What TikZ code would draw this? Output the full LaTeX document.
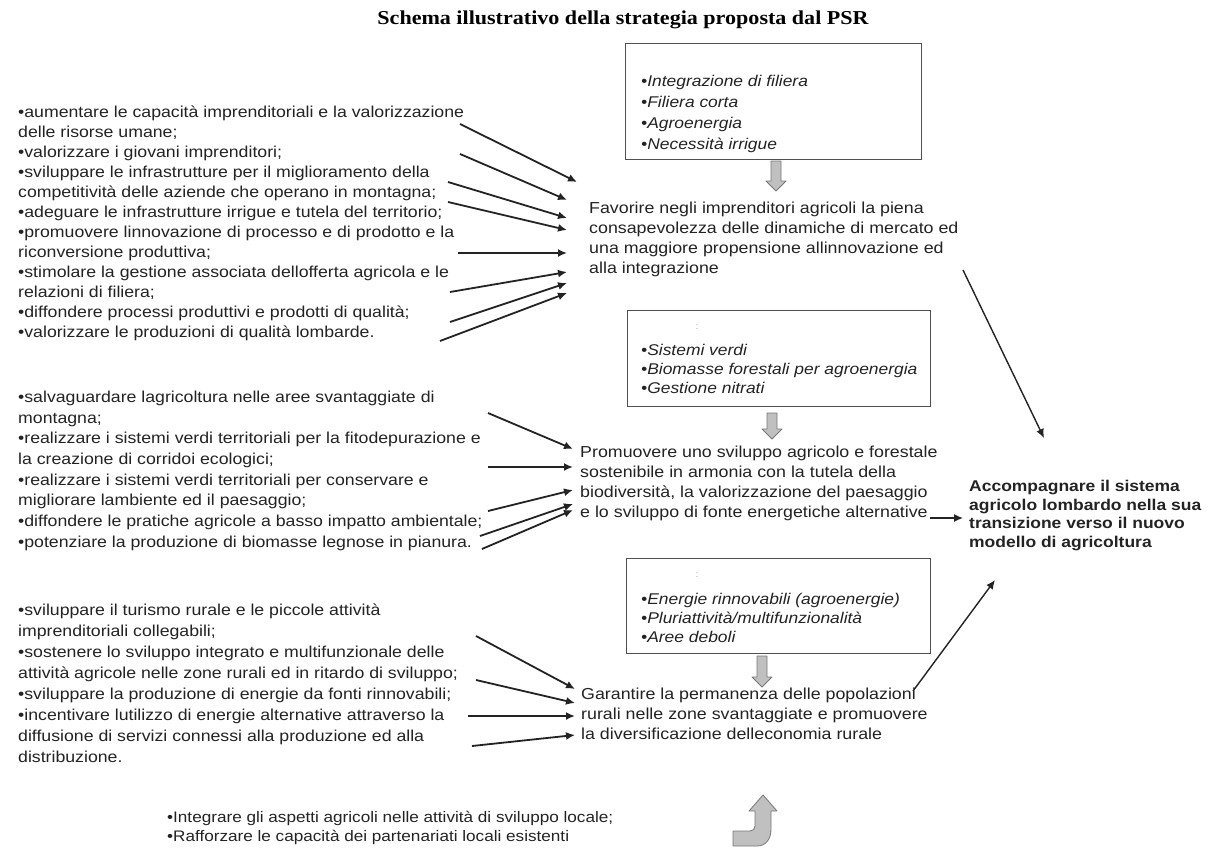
\documentclass[tikz,border=0pt]{standalone}
\usepackage{fontspec}
\setmainfont{Liberation Sans}[FakeStretch=1.12]
\newfontfamily\titlefont{Liberation Serif}[FakeStretch=1.12]
\usetikzlibrary{arrows.meta}
\definecolor{txt}{RGB}{35,35,35}
\definecolor{gfill}{RGB}{192,192,192}
\definecolor{gline}{RGB}{120,120,120}
\definecolor{boxline}{RGB}{80,80,80}
\tikzset{
  lst/.style={anchor=north west, inner sep=0pt, align=left, text=txt, font=\fontsize{15.8}{20}\selectfont},
  main/.style={anchor=north west, inner sep=0pt, align=left, text=txt, font=\fontsize{15.9}{20}\selectfont},
  boxtxt/.style={anchor=north west, inner sep=0pt, align=left, text=txt, font=\fontsize{15.55}{19.2}\selectfont\itshape},
  boxst/.style={anchor=north west, draw=boxline, line width=1.2pt, inner sep=0pt},
  arr/.style={line width=1.8pt, draw=txt, -{Latex[length=9pt,width=8pt]}},
  arrr/.style={line width=1.4pt, draw=txt, -{Latex[length=9pt,width=8pt]}},
  garr/.style={fill=gfill, draw=gline, line width=0.8pt, line join=round},
  colonmark/.style={inner sep=0pt, text=black!35, font=\fontsize{9}{9}\selectfont}
}
\newcommand\grayarrowdown[4]{\filldraw[garr] ({#1-5},#2) -- ({#1+5},#2) -- ({#1+5},#3) -- ({#1+10},#3) -- (#1,#4) -- ({#1-10},#3) -- ({#1-5},#3) -- cycle;}
\begin{document}
\begin{tikzpicture}[x=1pt,y=-1pt]
\useasboundingbox[fill=white] (0,0) rectangle (1209,867);

% title
\node[inner sep=0pt, anchor=base, text=black, font=\titlefont\bfseries\fontsize{19.7}{22}\selectfont] (title) at (623,25) {Schema illustrativo della strategia proposta dal PSR};

% boxes
\node[boxst, minimum width=296pt, minimum height=116pt] (b1) at (625,43) {};
\node[boxst, minimum width=303pt, minimum height=96pt] (b2) at (627,310) {};
\node[boxst, minimum width=304pt, minimum height=95pt] (b3) at (626,558) {};

\node[boxtxt, font=\fontsize{15.55}{20.9}\selectfont\itshape] (bt1) at (641,75) {•Integrazione di filiera\\•Filiera corta\\•Agroenergia\\•Necessità irrigue};
\node[colonmark] (m2) at (697,327) {:};
\node[boxtxt] (bt2) at (641,344) {•Sistemi verdi\\•Biomasse forestali per agroenergia\\•Gestione nitrati};
\node[colonmark] (m3) at (697,575) {:};
\node[boxtxt] (bt3) at (641,593) {•Energie rinnovabili (agroenergie)\\•Pluriattività/multifunzionalità\\•Aree deboli};

% main texts
\node[main] (t1) at (589,201.7) {Favorire negli imprenditori agricoli la piena\\consapevolezza delle dinamiche di mercato ed\\una maggiore propensione allinnovazione ed\\alla integrazione};
\node[main] (t2) at (580,445.7) {Promuovere uno sviluppo agricolo e forestale\\sostenibile in armonia con la tutela della\\biodiversità, la valorizzazione del paesaggio\\e lo sviluppo di fonte energetiche alternative};
\node[main, font=\fontsize{15.9}{20}\selectfont] (t3) at (581,687.7) {Garantire la permanenza delle popolazioni\\rurali nelle zone svantaggiate e promuovere\\la diversificazione delleconomia rurale};
\node[main, font=\bfseries\fontsize{15.6}{18.7}\selectfont] (acc) at (969,480) {Accompagnare il sistema\\agricolo lombardo nella sua\\transizione verso il nuovo\\modello di agricoltura};

% grey block arrows
\grayarrowdown{776}{161}{181}{191}
\grayarrowdown{772}{413}{429}{439}
\grayarrowdown{762}{656}{677}{687}
\filldraw[garr] (733,846) -- (757,846) .. controls (766,846) and (771,839) .. (771,829) -- (771,811) -- (777,811) -- (763,795) -- (749,811) -- (755,811) -- (755,826) .. controls (755,829) and (753,831) .. (750,831) -- (733,831) -- cycle;

% left lists
\node[lst] (g1) at (18,105.7) {•aumentare le capacità imprenditoriali e la valorizzazione\\delle risorse umane;\\•valorizzare i giovani imprenditori;\\•sviluppare le infrastrutture per il miglioramento della\\competitività delle aziende che operano in montagna;\\•adeguare le infrastrutture irrigue e tutela del territorio;\\•promuovere linnovazione di processo e di prodotto e la\\riconversione produttiva;\\•stimolare la gestione associata dellofferta agricola e le\\relazioni di filiera;\\•diffondere processi produttivi e prodotti di qualità;\\•valorizzare le produzioni di qualità lombarde.};
\node[lst, font=\fontsize{15.8}{20.7}\selectfont] (g2) at (18,390.7) {•salvaguardare lagricoltura nelle aree svantaggiate di\\montagna;\\•realizzare i sistemi verdi territoriali per la fitodepurazione e\\la creazione di corridoi ecologici;\\•realizzare i sistemi verdi territoriali per conservare e\\migliorare lambiente ed il paesaggio;\\•diffondere le pratiche agricole a basso impatto ambientale;\\•potenziare la produzione di biomasse legnose in pianura.};
\node[lst, font=\fontsize{15.8}{21}\selectfont] (g3) at (18,603.7) {•sviluppare il turismo rurale e le piccole attività\\imprenditoriali collegabili;\\•sostenere lo sviluppo integrato e multifunzionale delle\\attività agricole nelle zone rurali ed in ritardo di sviluppo;\\•sviluppare la produzione di energie da fonti rinnovabili;\\•incentivare lutilizzo di energie alternative attraverso la\\diffusione di servizi connessi alla produzione ed alla\\distribuzione.};
\node[lst, font=\fontsize{15.3}{19}\selectfont] (g4) at (167,811) {•Integrare gli aspetti agricoli nelle attività di sviluppo locale;\\•Rafforzare le capacità dei partenariati locali esistenti};

% arrow end points, group 1
\coordinate (s11) at (460,124); \coordinate (e11) at (577,182);
\coordinate (s12) at (460,154); \coordinate (e12) at (567,200);
\coordinate (s13) at (448,182); \coordinate (e13) at (567,218);
\coordinate (s14) at (448,202); \coordinate (e14) at (567,230);
\coordinate (s15) at (458,253); \coordinate (e15) at (567,253);
\coordinate (s16) at (450,292); \coordinate (e16) at (567,272);
\coordinate (s17) at (450,322); \coordinate (e17) at (567,283);
\coordinate (s18) at (440,341); \coordinate (e18) at (567,293);
\foreach \i in {1,...,8} {\draw[arr] (s1\i) -- (e1\i);}

% group 2
\coordinate (s21) at (488,413); \coordinate (e21) at (573,449);
\coordinate (s22) at (488,467); \coordinate (e22) at (573,467);
\coordinate (s23) at (488,511); \coordinate (e23) at (573,490);
\coordinate (s24) at (480,536); \coordinate (e24) at (573,504);
\coordinate (s25) at (482,549); \coordinate (e25) at (573,510);
\foreach \i in {1,...,5} {\draw[arr] (s2\i) -- (e2\i);}

% group 3
\coordinate (s31) at (476,636); \coordinate (e31) at (575,689);
\coordinate (s32) at (476,680); \coordinate (e32) at (575,703);
\coordinate (s33) at (468,716); \coordinate (e33) at (575,716);
\coordinate (s34) at (472,746); \coordinate (e34) at (575,735);
\foreach \i in {1,...,4} {\draw[arr] (s3\i) -- (e3\i);}

% to the goal
\coordinate (r1s) at (963,270); \coordinate (r1e) at (1044,438);
\coordinate (r2s) at (930,518); \coordinate (r2e) at (963,518);
\coordinate (r3s) at (913,691); \coordinate (r3e) at (995,580);
\draw[arrr] (r1s) -- (r1e);
\draw[arrr] (r2s) -- (r2e);
\draw[arrr] (r3s) -- (r3e);
\end{tikzpicture}
\end{document}
